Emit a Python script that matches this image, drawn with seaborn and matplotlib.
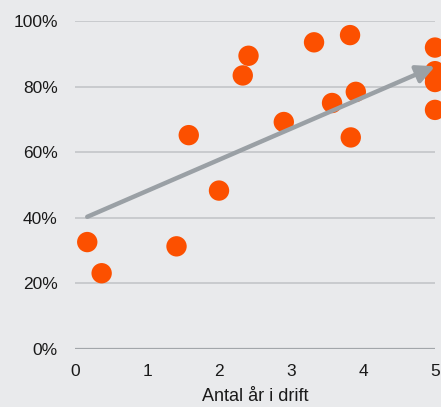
import matplotlib
matplotlib.use("Agg")
import matplotlib.pyplot as plt
import seaborn as sns
import pandas as pd
from matplotlib.ticker import PercentFormatter

# Years in operation and share for each unit
years = [0.17, 0.37, 1.41, 1.58, 2.00, 2.33, 2.41, 2.90, 3.32, 3.57, 3.82, 3.83, 3.90,
         5.00, 5.00, 5.00, 5.00, 5.00]
share = [0.326, 0.231, 0.313, 0.652, 0.483, 0.834, 0.894, 0.692, 0.935, 0.750, 0.957, 0.645, 0.784,
         0.919, 0.847, 0.830, 0.814, 0.729]

# Trend arrow (start and end in data units)
trend_x = [0.17, 5.0]
trend_y = [0.403, 0.862]

x_ticks = [0, 1, 2, 3, 4, 5]
y_ticks = [0, 0.2, 0.4, 0.6, 0.8, 1.0]

bg = "#e9eaec"
sns.set_theme(style="white")
plt.rcParams["font.family"] = ["Liberation Sans", "DejaVu Sans"]

fig = plt.figure(figsize=(4.41, 4.07), dpi=100, facecolor=bg)
ax = fig.add_axes([75 / 441, 1 - 349 / 407, 360 / 441, 328 / 407])
ax.set_facecolor(bg)

df = pd.DataFrame({"years": years, "share": share})

ax.set_xlim(0, 5)
ax.set_ylim(0, 1.0)

for y in y_ticks[1:]:
    ax.axhline(y, color="#c3c5c8", lw=1.2, zorder=1)
ax.axhline(0, color="#a2a6aa", lw=1.6, zorder=1)

sns.scatterplot(data=df, x="years", y="share", ax=ax, s=215, color="#fc5000",
                edgecolor="none", linewidth=0, zorder=3, clip_on=False)

ax.annotate("", xy=(trend_x[1], trend_y[1]), xytext=(trend_x[0], trend_y[0]),
            arrowprops=dict(arrowstyle="-|>,head_length=0.9,head_width=0.45",
                            color="#9aa0a5", lw=3.2, capstyle="round",
                            shrinkA=0, shrinkB=0),
            zorder=4)

ax.set_xticks(x_ticks)
ax.set_yticks(y_ticks)
ax.yaxis.set_major_formatter(PercentFormatter(1.0, decimals=0))
ax.tick_params(axis="both", length=0, labelsize=12.5, labelcolor="#1a1a1a")
ax.tick_params(axis="y", pad=12.5)
ax.tick_params(axis="x", pad=11)
ax.set_xlabel("Antal år i drift", fontsize=13, color="#1a1a1a", labelpad=6)
ax.set_ylabel("")
for s in ax.spines.values():
    s.set_visible(False)

fig.savefig("out.png", dpi=100, facecolor=bg)
